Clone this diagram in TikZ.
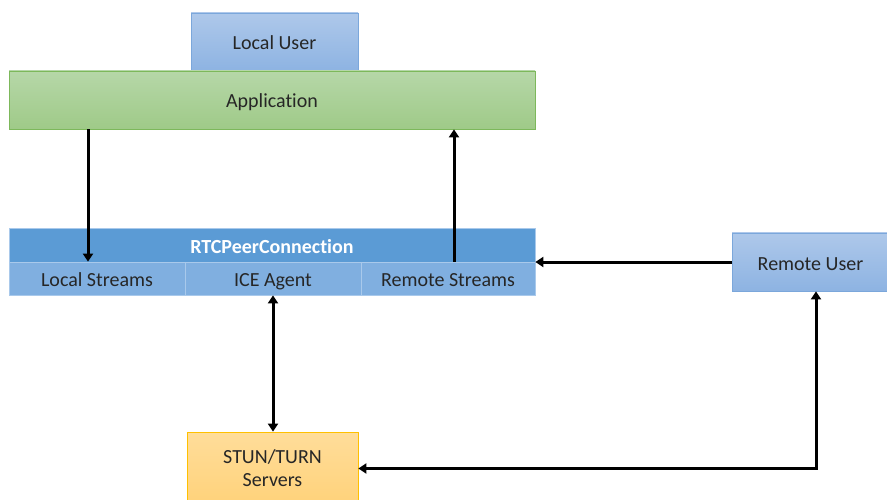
\documentclass[tikz,border=0pt]{standalone}
\usepackage{fontspec}
\setmainfont{Carlito}[Ligatures=NoCommon]
\usetikzlibrary{arrows.meta,calc}
\definecolor{userTop}{HTML}{AEC8EA}
\definecolor{userBot}{HTML}{8DB3E2}
\definecolor{userLine}{HTML}{7BA7DB}
\definecolor{appTop}{HTML}{B6D7A8}
\definecolor{appBot}{HTML}{9FCA88}
\definecolor{appLine}{HTML}{7DB85B}
\definecolor{rtcHead}{HTML}{5B9BD5}
\definecolor{rtcSub}{HTML}{80AFE0}
\definecolor{rtcLine}{HTML}{A9C9EB}
\definecolor{stunTop}{HTML}{FFDD9A}
\definecolor{stunBot}{HTML}{FFD27A}
\definecolor{stunLine}{HTML}{FFC000}
\tikzset{
  box/.style={rectangle, inner sep=0pt, text height=18pt, text depth=2pt, font=\fontsize{20}{24}\selectfont, text=black!85},
  userbox/.style={box, draw=userLine, line width=0.8pt, top color=userTop, bottom color=userBot},
  appbox/.style={box, draw=appLine, line width=0.8pt, top color=appTop, bottom color=appBot},
  headbox/.style={box, fill=rtcHead, draw=rtcLine, line width=0.8pt, text=white, font=\fontsize{20}{24}\selectfont\bfseries},
  subbox/.style={box, fill=rtcSub, draw=rtcLine, line width=0.8pt},
  stunbox/.style={rectangle, inner sep=0pt, font=\fontsize{20}{24}\selectfont, text=black!85, draw=stunLine, line width=0.8pt, top color=stunTop, bottom color=stunBot, align=center},
  link/.style={line width=3pt, draw=black, -{Triangle[length=8pt,width=10pt]}},
  link2/.style={line width=3pt, draw=black, {Triangle[length=8pt,width=10pt]}-{Triangle[length=8pt,width=10pt]}}
}
\begin{document}
\begin{tikzpicture}[x=1pt,y=-1pt]
\useasboundingbox (0,0) rectangle (887,500);
\begin{scope}
\clip (0,0) rectangle (887,500);
% top row
\node[userbox, minimum width=167pt, minimum height=58pt] (lu) at (274.5,42) {Local User};
\node[appbox, minimum width=526pt, minimum height=58pt] (app) at (272,100) {Application};
% peer connection block
\node[headbox, minimum width=526pt, minimum height=34pt] (rtc) at (272,245) {RTCPeerConnection};
\node[subbox, minimum width=176pt, minimum height=33pt] (ls) at (97,278.5) {Local Streams};
\node[subbox, minimum width=176pt, minimum height=33pt] (ice) at (273,278.5) {ICE Agent};
\node[subbox, minimum width=174pt, minimum height=33pt] (rs) at (448,278.5) {Remote Streams};
% remote side and servers
\node[userbox, minimum width=157pt, minimum height=58pt] (ru) at (810.5,262) {Remote User};
\node[stunbox, minimum width=171pt, minimum height=73pt] (stun) at (272.5,468.5) {STUN/TURN\\[-1pt]Servers};
\end{scope}
% connectors
\coordinate (xa) at (88,0);
\coordinate (xb) at (454,0);
\coordinate (xc) at (816,0);
\draw[link] (app.south -| xa) -- (ls.north -| xa);
\draw[link] (rs.north -| xb) -- (app.south -| xb);
\draw[link] (ru.west) -- (ru.west -| rs.east);
\draw[link2] (ice.south) -- (ice.south |- stun.north);
\draw[link2] (stun.east) -| (ru.south -| xc);
\end{tikzpicture}
\end{document}
